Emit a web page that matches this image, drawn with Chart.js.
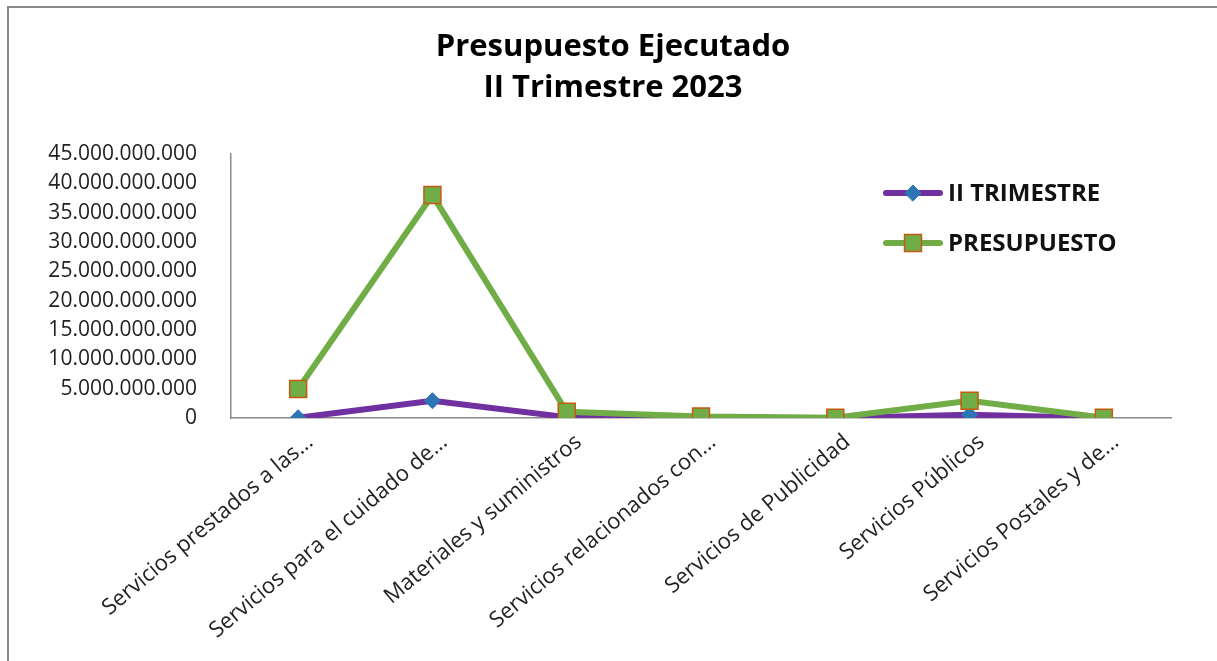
<!DOCTYPE html>
<html>
<head>
<meta charset="utf-8">
<script src="https://cdn.jsdelivr.net/npm/chart.js@4.4.0/dist/chart.umd.min.js"></script>
<style>
  html, body { margin: 0; padding: 0; background: #fff; }
  #wrap { width: 1217px; height: 661px; position: relative; }
</style>
</head>
<body>
<div id="wrap"><canvas id="chart" width="1217" height="661"></canvas></div>
<script>
const categories = [
  "Servicios prestados a las...",
  "Servicios para el cuidado de...",
  "Materiales y suministros",
  "Servicios relacionados con...",
  "Servicios de Publicidad",
  "Servicios Públicos",
  "Servicios Postales y de..."
];
const trimestre = [0.04e9, 2.95e9, 0.15e9, 0.05e9, 0.02e9, 0.55e9, 0.02e9];
const presupuesto = [4.95e9, 38.0e9, 1.05e9, 0.25e9, 0.05e9, 2.95e9, 0.05e9];
const seriesNames = ["II TRIMESTRE", "PRESUPUESTO"];
const titleLines = ["Presupuesto Ejecutado", "II Trimestre 2023"];
const yMax = 45e9;
const yStep = 5e9;

const FONT = "'Open Sans', sans-serif";

function fmt(v) {
  return String(Math.round(v)).replace(/\B(?=(\d{3})+(?!\d))/g, ".");
}

// marco gris, título y leyenda dibujados a mano
const framePlugin = {
  id: "frame",
  beforeDraw(chart) {
    const ctx = chart.ctx;
    ctx.save();
    ctx.strokeStyle = "#8a8a8a";
    ctx.lineWidth = 2;
    ctx.beginPath();
    ctx.moveTo(8, 661);
    ctx.lineTo(8, 7);
    ctx.lineTo(1217, 7);
    ctx.stroke();
    ctx.restore();
  },
  afterDraw(chart) {
    const ctx = chart.ctx;
    ctx.save();
    ctx.fillStyle = "#000";
    ctx.font = "bold 31px " + FONT;
    ctx.textAlign = "center";
    ctx.textBaseline = "middle";
    titleLines.forEach((t, i) => ctx.fillText(t, 613, 47 + i * 41));

    const rows = [193, 243];
    chart.data.datasets.forEach((ds, i) => {
      const y = rows[i];
      ctx.strokeStyle = ds.borderColor;
      ctx.lineWidth = 6;
      ctx.lineCap = "round";
      ctx.beginPath();
      ctx.moveTo(886, y);
      ctx.lineTo(940, y);
      ctx.stroke();
      ctx.fillStyle = ds.pointBackgroundColor;
      ctx.strokeStyle = ds.pointBorderColor;
      ctx.lineWidth = ds.pointBorderWidth;
      Chart.helpers.drawPoint(ctx, {
        pointStyle: ds.pointStyle,
        radius: ds.pointRadius,
        rotation: 0,
        borderWidth: ds.pointBorderWidth
      }, 913, y);
      ctx.fillStyle = "#111";
      ctx.font = "bold 24px " + FONT;
      ctx.textBaseline = "middle";
      ctx.textAlign = "left";
      ctx.fillText(ds.label, 948, y + 1);
    });
    ctx.restore();
  }
};

new Chart(document.getElementById("chart"), {
  type: "line",
  data: {
    labels: categories,
    datasets: [
      {
        label: seriesNames[0],
        data: trimestre,
        borderColor: "#7030A0",
        borderWidth: 6,
        pointStyle: "rectRot",
        pointRadius: 8,
        pointBackgroundColor: "#2E75B6",
        pointBorderColor: "#2E75B6",
        pointBorderWidth: 1,
        tension: 0,
        order: 1
      },
      {
        label: seriesNames[1],
        data: presupuesto,
        borderColor: "#70AD47",
        borderWidth: 6,
        pointStyle: "rect",
        pointRadius: 12,
        pointBackgroundColor: "#70AD47",
        pointBorderColor: "#C55A11",
        pointBorderWidth: 1.5,
        tension: 0,
        order: 0
      }
    ]
  },
  options: {
    responsive: false,
    animation: false,
    devicePixelRatio: 1,
    layout: { padding: { left: 0, right: 46, top: 154, bottom: 0 } },
    plugins: {
      legend: { display: false },
      tooltip: { enabled: false },
      title: { display: false }
    },
    scales: {
      x: {
        offset: true,
        grid: { display: false },
        border: { color: "#8a8a8a", width: 1.5 },
        ticks: {
          color: "#222",
          font: { family: FONT, size: 22 },
          minRotation: 40,
          maxRotation: 40,
          padding: 3,
          labelOffset: 12,
          autoSkip: false
        },
        afterFit(s) { s.height = 243; }
      },
      y: {
        min: 0,
        max: yMax,
        grid: { display: false },
        border: { color: "#8a8a8a", width: 1.5 },
        ticks: {
          stepSize: yStep,
          color: "#222",
          font: { family: FONT, size: 21 },
          padding: 26,
          callback: v => fmt(v)
        },
        afterFit(s) { s.width = 231; }
      }
    }
  },
  plugins: [framePlugin]
});
</script>
</body>
</html>
